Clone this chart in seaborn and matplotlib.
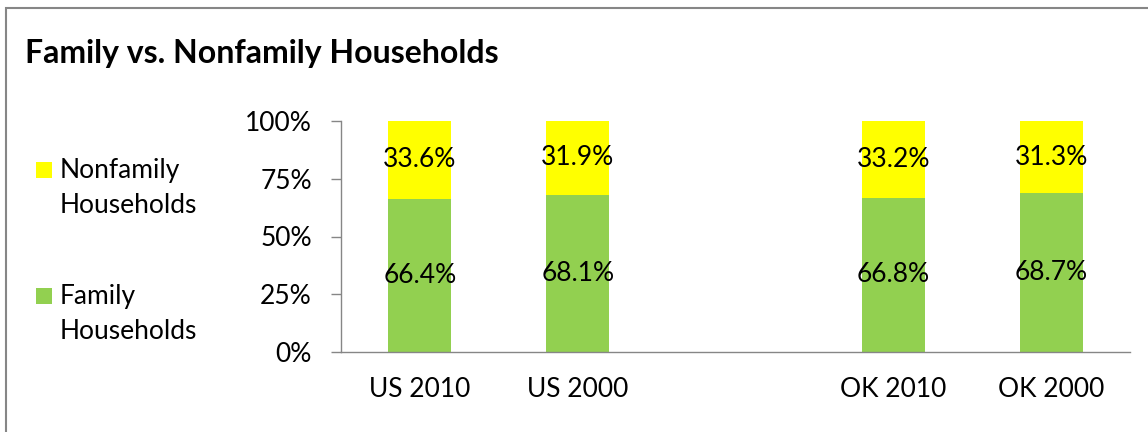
import matplotlib
matplotlib.use("Agg")
import matplotlib.pyplot as plt
import matplotlib.patches as mpatches
import seaborn as sns
import pandas as pd

# --- DATA ---
categories = ["US 2010", "US 2000", "", "OK 2010", "OK 2000"]
places = ["US 2010", "US 2000", "OK 2010", "OK 2000"]
family = [66.4, 68.1, 66.8, 68.7]
nonfamily = [33.6, 31.9, 33.2, 31.3]
y_ticks = [0, 25, 50, 75, 100]
legend_labels = ["Nonfamily\nHouseholds", "Family\nHouseholds"]

GREEN = "#92D050"
YELLOW = "#FFFF00"
GRAY = "#868686"
FS = 19

sns.set_theme(style="white")
plt.rcParams["font.family"] = ["Lato", "DejaVu Sans"]
plt.rcParams["text.color"] = "black"
plt.rcParams["xtick.color"] = "black"
plt.rcParams["ytick.color"] = "black"

df = pd.DataFrame({"place": places, "family": family, "nonfamily": nonfamily})
df["total"] = df["family"] + df["nonfamily"]

fig = plt.figure(figsize=(11.48, 4.32), dpi=100)
ax = fig.add_axes([341 / 1148, 80 / 432, 789 / 1148, 231 / 432])

# stacked bars: total (yellow) underneath, family (green) on top of it
sns.barplot(data=df, x="place", y="total", order=categories, color=YELLOW,
            width=0.4, saturation=1, linewidth=0, ax=ax)
sns.barplot(data=df, x="place", y="family", order=categories, color=GREEN,
            width=0.4, saturation=1, linewidth=0, ax=ax)

# --- labels centred in each segment ---
for i, row in df.iterrows():
    xpos = categories.index(row["place"])
    ax.text(xpos, row["family"] / 2, f"{row['family']:.1f}%",
            ha="center", va="center", fontsize=FS)
    ax.text(xpos, row["family"] + row["nonfamily"] / 2, f"{row['nonfamily']:.1f}%",
            ha="center", va="center", fontsize=FS)

# --- axes styling ---
ax.set_xlim(-0.5, len(categories) - 0.5)
ax.set_ylim(0, 100)
ax.set_yticks(y_ticks)
ax.set_yticklabels([f"{t}%" for t in y_ticks], fontsize=FS)
ax.set_xticks(range(len(categories)))
ax.set_xticklabels(categories, fontsize=FS)
ax.set_xticks([i - 0.5 for i in range(len(categories) + 1)], minor=True)
ax.tick_params(axis="x", which="major", length=0, pad=18)
ax.tick_params(axis="x", which="minor", length=7, width=1, color=GRAY, direction="out")
ax.tick_params(axis="y", length=7, width=1, color=GRAY, direction="out", left=True, pad=14)
for lbl in ax.get_xticklabels() + ax.get_yticklabels():
    lbl.set_color("black")
ax.set_xlabel("")
ax.set_ylabel("")
for side in ["top", "right"]:
    ax.spines[side].set_visible(False)
for side in ["left", "bottom"]:
    ax.spines[side].set_color(GRAY)
    ax.spines[side].set_linewidth(1)

# --- legend (square aligned with the first line of each label) ---
for label, color, y_top in zip(legend_labels, [YELLOW, GREEN], [162, 288]):
    fig.patches.append(mpatches.Rectangle((36 / 1148, 1 - (y_top + 16) / 432),
                                          16 / 1148, 16 / 432,
                                          transform=fig.transFigure,
                                          facecolor=color, edgecolor="none"))
    fig.text(60 / 1148, 1 - (y_top + 26) / 432, label, fontsize=FS,
             ha="left", va="center", linespacing=1.5)

# --- title and outer frame ---
fig.text(25 / 1148, 1 - 53 / 432, "Family vs. Nonfamily Households",
         fontsize=23, fontweight="bold", ha="left", va="center")
fig.patches.append(mpatches.Rectangle((6 / 1148, -0.1), 1.2, 1 - 8 / 432 + 0.1,
                                      transform=fig.transFigure, fill=False,
                                      edgecolor=GRAY, linewidth=1.5))

fig.savefig("out.png", dpi=100)
